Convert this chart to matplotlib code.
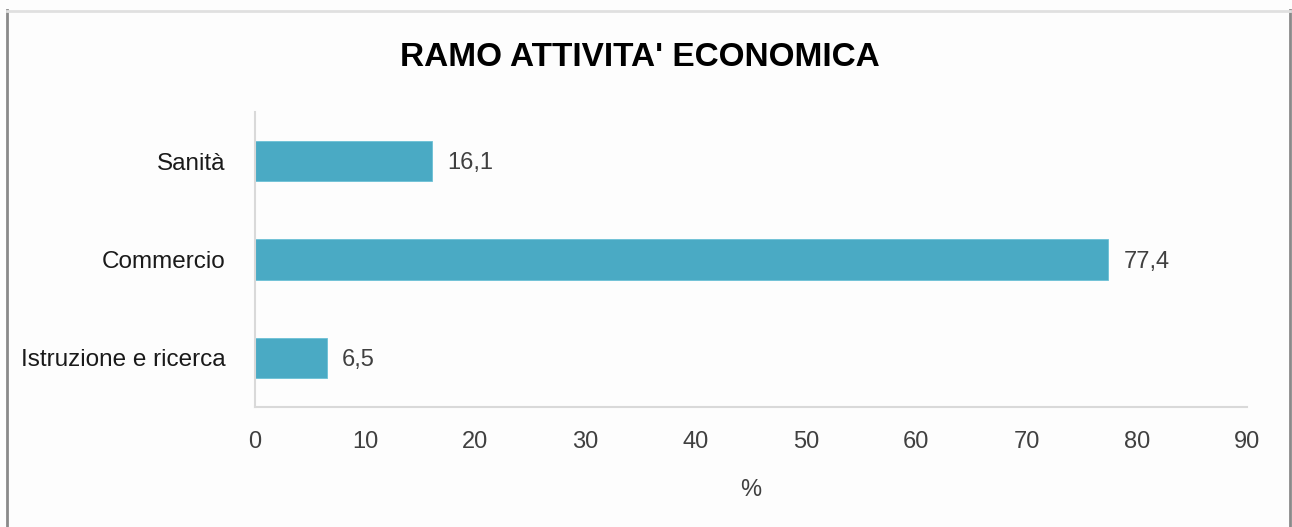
import matplotlib
matplotlib.use('Agg')
import matplotlib.pyplot as plt
from matplotlib.lines import Line2D

# data
categories = ['Istruzione e ricerca', 'Commercio', 'Sanità']
values = [6.5, 77.4, 16.1]
value_labels = ['6,5', '77,4', '16,1']

plain = ['Liberation Sans', 'DejaVu Sans']

fig = plt.figure(figsize=(12.92, 5.27), dpi=100)
fig.patch.set_facecolor('#fdfdfd')
ax = fig.add_axes([255 / 1292, 1 - 407 / 527, (1247 - 255) / 1292, (407 - 112) / 527])
ax.set_facecolor('#fdfdfd')

bars = ax.barh(range(len(categories)), values, height=0.41, color='#4aaac4',
               edgecolor='#6cc0d6', linewidth=0.6)

# value labels next to the bars
for i, (v, lab) in enumerate(zip(values, value_labels)):
    ax.annotate(lab, xy=(v, i), xytext=(11, -1.5), textcoords='offset points',
                va='center', ha='left', fontsize=17, family=plain, color='#404040')

ax.set_xlim(0, 90)
ax.set_ylim(-0.5, 2.5)
ax.set_xticks(range(0, 91, 10))
ax.set_yticks(range(len(categories)))
ax.set_yticklabels(categories, family=plain, fontsize=17.5, color='#1a1a1a')
for t in ax.get_xticklabels():
    t.set_family(plain)
    t.set_fontsize(17)
    t.set_color('#404040')
ax.tick_params(axis='x', length=0, pad=17)
ax.tick_params(axis='y', length=0, pad=21)

ax.set_xlabel('%', family=plain, fontsize=17, color='#404040', labelpad=19)

for s in ['top', 'right']:
    ax.spines[s].set_visible(False)
for s in ['left', 'bottom']:
    ax.spines[s].set_color('#d9d9d9')
    ax.spines[s].set_linewidth(1.5)

fig.text(640 / 1292, 1 - 58 / 527, "RAMO ATTIVITA' ECONOMICA", ha='center', va='center',
         family=plain, fontweight='bold', fontsize=24, color='#000000')

# outer frame
fig.add_artist(Line2D([7 / 1292, 7 / 1292], [0, 1 - 10 / 527], color='#8a8a8a', lw=2))
fig.add_artist(Line2D([1290 / 1292, 1290 / 1292], [0, 1 - 10 / 527], color='#8a8a8a', lw=2))
fig.add_artist(Line2D([7 / 1292, 1290 / 1292], [1 - 11 / 527, 1 - 11 / 527], color='#e0e0e0', lw=2))

fig.savefig('out.png', dpi=100, facecolor=fig.get_facecolor())
